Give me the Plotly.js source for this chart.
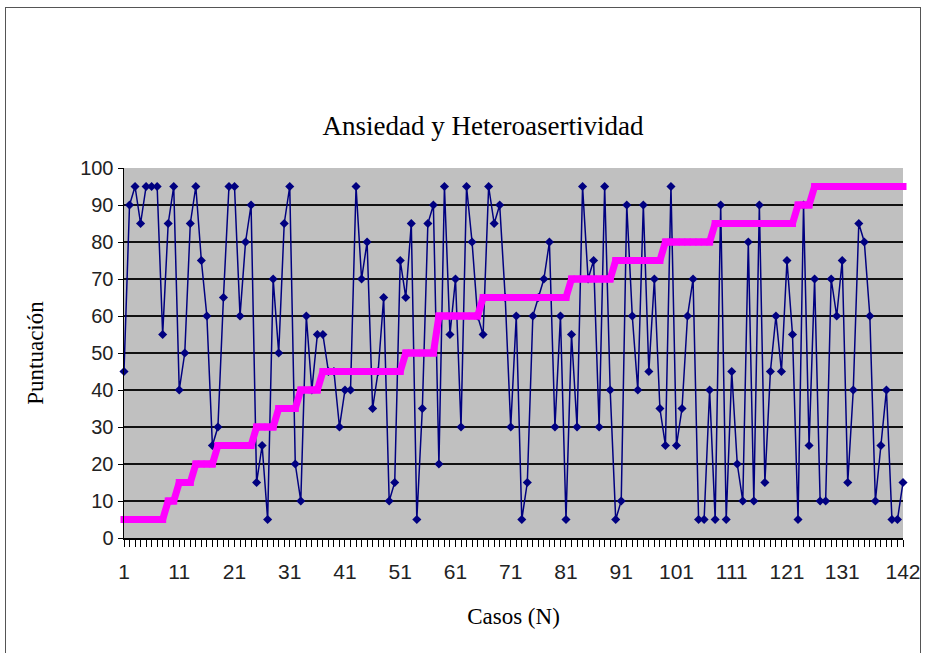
<!DOCTYPE html>
<html>
<head>
<meta charset="utf-8">
<script src="https://cdn.plot.ly/plotly-3.0.1.min.js"></script>
<style>
  html, body { margin: 0; padding: 0; background: #ffffff; overflow: hidden; }
  #frame { position: absolute; left: 5px; top: 7px; width: 916px; height: 700px; border: 1.5px solid #555; box-sizing: border-box; }
  #chart { position: absolute; left: 0; top: 0; width: 927px; height: 653px; }
</style>
</head>
<body>
<div id="frame"></div>
<div id="chart"></div>
<script>
// Cases 1..142
var cases = [];
for (var i = 1; i <= 142; i++) cases.push(i);

// Ansiedad (blue line with diamonds)
var ansiedad = [
  45, 90, 95, 85, 95, 95, 95, 55, 85, 95,
  40, 50, 85, 95, 75, 60, 25, 30, 65, 95,
  95, 60, 80, 90, 15, 25, 5, 70, 50, 85,
  95, 20, 10, 60, 40, 55, 55, 45, 45, 30,
  40, 40, 95, 70, 80, 35, 45, 65, 10, 15,
  75, 65, 85, 5, 35, 85, 90, 20, 95, 55,
  70, 30, 95, 80, 60, 55, 95, 85, 90, 65,
  30, 60, 5, 15, 60, 65, 70, 80, 30, 60,
  5, 55, 30, 95, 70, 75, 30, 95, 40, 5,
  10, 90, 60, 40, 90, 45, 70, 35, 25, 95,
  25, 35, 60, 70, 5, 5, 40, 5, 90, 5,
  45, 20, 10, 80, 10, 90, 15, 45, 60, 45,
  75, 55, 5, 90, 25, 70, 10, 10, 70, 60,
  75, 15, 40, 85, 80, 60, 10, 25, 40, 5,
  5, 15
];

// Heteroasertividad (magenta step series)
var hetero = [
  5, 5, 5, 5, 5, 5, 5, 5, 10, 10,
  15, 15, 15, 20, 20, 20, 20, 25, 25, 25,
  25, 25, 25, 25, 30, 30, 30, 30, 35, 35,
  35, 35, 40, 40, 40, 40, 45, 45, 45, 45,
  45, 45, 45, 45, 45, 45, 45, 45, 45, 45,
  45, 50, 50, 50, 50, 50, 50, 60, 60, 60,
  60, 60, 60, 60, 60, 65, 65, 65, 65, 65,
  65, 65, 65, 65, 65, 65, 65, 65, 65, 65,
  65, 70, 70, 70, 70, 70, 70, 70, 70, 75,
  75, 75, 75, 75, 75, 75, 75, 75, 80, 80,
  80, 80, 80, 80, 80, 80, 80, 85, 85, 85,
  85, 85, 85, 85, 85, 85, 85, 85, 85, 85,
  85, 85, 90, 90, 90, 95, 95, 95, 95, 95,
  95, 95, 95, 95, 95, 95, 95, 95, 95, 95,
  95, 95
];

var labeledCases = [1, 11, 21, 31, 41, 51, 61, 71, 81, 91, 101, 111, 121, 131, 142];
var yTicks = [0, 10, 20, 30, 40, 50, 60, 70, 80, 90, 100];

var tickText = cases.map(function (c) { return labeledCases.indexOf(c) >= 0 ? String(c) : ''; });

var traces = [
  {
    x: cases, y: ansiedad, type: 'scatter', mode: 'lines+markers', name: 'Ansiedad',
    line: { color: '#000080', width: 1.5 },
    marker: { symbol: 'diamond', size: 7, color: '#000080' },
    cliponaxis: false
  },
  {
    x: cases, y: hetero, type: 'scatter', mode: 'lines+markers', name: 'Heteroasertividad',
    line: { color: '#FF00FF', width: 7 },
    marker: { symbol: 'square', size: 7, color: '#FF00FF' },
    cliponaxis: false
  }
];

var serif = 'Liberation Serif, Times New Roman, serif';
var sans = 'Liberation Sans, Arial, sans-serif';

var layout = {
  width: 927, height: 653,
  paper_bgcolor: 'rgba(0,0,0,0)',
  plot_bgcolor: '#C0C0C0',
  showlegend: false,
  margin: { l: 124, r: 24, t: 168, b: 115 },
  title: {
    text: 'Ansiedad y Heteroasertividad',
    font: { family: serif, size: 27, color: '#000' },
    xref: 'container', yref: 'container',
    x: 0.521, xanchor: 'center', y: 0.807, yanchor: 'middle'
  },
  xaxis: {
    range: [1, 142],
    tickmode: 'array', tickvals: cases, ticktext: tickText,
    ticks: 'outside', ticklen: 7, tickwidth: 1, tickcolor: '#000',
    showline: true, linecolor: '#000', linewidth: 1.5,
    showgrid: false, zeroline: false,
    ticklabelstandoff: 7,
    tickfont: { family: sans, size: 21, color: '#222' },
    title: { text: 'Casos (N)', font: { family: serif, size: 23, color: '#000' }, standoff: 26 }
  },
  yaxis: {
    range: [0, 100],
    tickmode: 'array', tickvals: yTicks,
    ticks: 'outside', ticklen: 5, tickwidth: 1, tickcolor: '#000',
    showline: true, linecolor: '#000', linewidth: 1.5,
    showgrid: true, gridcolor: '#111', gridwidth: 1.8,
    zeroline: false,
    tickfont: { family: sans, size: 20, color: '#222' },
    title: { text: 'Puntuación', font: { family: serif, size: 23, color: '#000' }, standoff: 30 }
  }
};

Plotly.newPlot('chart', traces, layout, { displayModeBar: false, staticPlot: true });
</script>
</body>
</html>
